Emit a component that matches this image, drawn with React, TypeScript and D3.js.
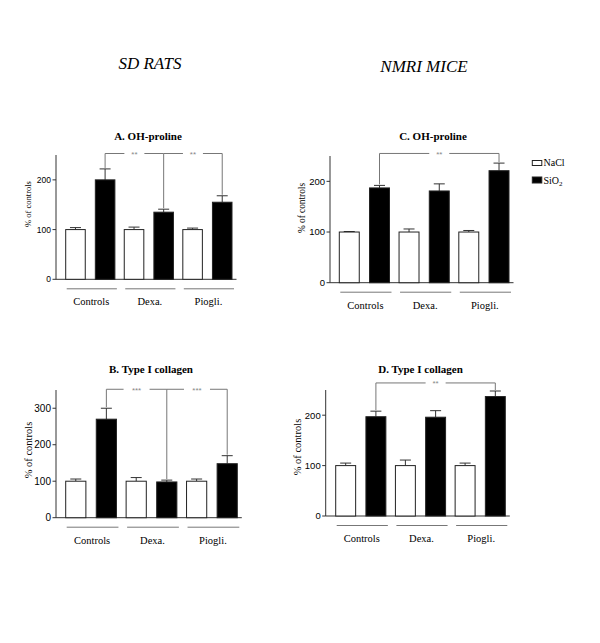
import React from 'react';
import * as d3 from 'd3';

// treatment groups and series
const groups = ['Controls', 'Dexa.', 'Piogli.'];
const series = ['NaCl', 'SiO2'];

// A. OH-proline, SD rats (% of controls, mean + SEM)
const ratOhNaCl = [100, 100, 100];
const ratOhNaClErr = [4, 5, 3];
const ratOhSiO2 = [200, 135, 155];
const ratOhSiO2Err = [22, 6, 13];

// B. Type I collagen, SD rats
const ratColNaCl = [100, 100, 100];
const ratColNaClErr = [6, 10, 6];
const ratColSiO2 = [270, 98, 148];
const ratColSiO2Err = [30, 5, 22];

// C. OH-proline, NMRI mice
const mouseOhNaCl = [100, 100, 100];
const mouseOhNaClErr = [1, 6, 3];
const mouseOhSiO2 = [187, 181, 221];
const mouseOhSiO2Err = [5, 14, 15];

// D. Type I collagen, NMRI mice
const mouseColNaCl = [100, 100, 100];
const mouseColNaClErr = [5, 11, 5];
const mouseColSiO2 = [197, 196, 237];
const mouseColSiO2Err = [11, 13, 11];

const ticks250 = [0, 100, 200];
const ticks350 = [0, 100, 200, 300];

const SERIF = '"Liberation Serif", "Times New Roman", serif';
const SANS = '"Liberation Sans", Arial, sans-serif';

const panels = [
  {
    title: 'A. OH-proline', naCl: ratOhNaCl, naClErr: ratOhNaClErr, siO2: ratOhSiO2, siO2Err: ratOhSiO2Err,
    max: 250, ticks: ticks250, axisX: 56, yTop: 155, yZero: 279.3, barX0: 65.7, barX1: 232,
    titleX: 148, titleY: 140, bracketValue: 253, bracketGroups: [0, 1, 2], stars: '**',
    labelY: 204, labelSize: 8.5, tickSize: 8.5,
  },
  {
    title: 'B. Type I collagen', naCl: ratColNaCl, naClErr: ratColNaClErr, siO2: ratColSiO2, siO2Err: ratColSiO2Err,
    max: 350, ticks: ticks350, axisX: 56, yTop: 390, yZero: 517.7, barX0: 65.7, barX1: 237.3,
    titleX: 151, titleY: 372.5, bracketValue: 352, bracketGroups: [0, 1, 2], stars: '***',
    labelY: 450, labelSize: 10.5, tickSize: 10,
  },
  {
    title: 'C. OH-proline', naCl: mouseOhNaCl, naClErr: mouseOhNaClErr, siO2: mouseOhSiO2, siO2Err: mouseOhSiO2Err,
    max: 250, ticks: ticks250, axisX: 330, yTop: 156, yZero: 282.7, barX0: 339.3, barX1: 509,
    titleX: 433, titleY: 140, bracketValue: 255, bracketGroups: [0, 2], stars: '**',
    labelY: 208, labelSize: 9.3, tickSize: 9.5,
  },
  {
    title: 'D. Type I collagen', naCl: mouseColNaCl, naClErr: mouseColNaClErr, siO2: mouseColSiO2, siO2Err: mouseColSiO2Err,
    max: 250, ticks: ticks250, axisX: 325.7, yTop: 390, yZero: 516, barX0: 335.7, barX1: 505.3,
    titleX: 420.5, titleY: 372.7, bracketValue: 264, bracketGroups: [0, 2], stars: '**',
    labelY: 447, labelSize: 10.5, tickSize: 9.5,
  },
];

type PanelCfg = (typeof panels)[number];

const Panel = ({ p }: { p: PanelCfg }) => {
  const x = d3.scaleBand().domain(groups).range([p.barX0, p.barX1]).paddingInner(0.16).paddingOuter(0);
  const xs = d3.scaleBand().domain(series).range([0, x.bandwidth()]).paddingInner(0.34).paddingOuter(0);
  const y = d3.scaleLinear().domain([0, p.max]).range([p.yZero, p.yTop]);

  const bars = groups.flatMap((g, i) => [
    { g, s: 'NaCl', v: p.naCl[i], e: p.naClErr[i] },
    { g, s: 'SiO2', v: p.siO2[i], e: p.siO2Err[i] },
  ]);

  const cx = (g: string, s: string) => (x(g) ?? 0) + (xs(s) ?? 0) + xs.bandwidth() / 2;
  const by = y(p.bracketValue);
  const xEnd = p.barX1 + 4.5;

  // bracket verticals at SiO2 bars
  const verts = p.bracketGroups.map((gi) => ({
    x: cx(groups[gi], 'SiO2'),
    bottom: y(p.siO2[gi] + p.siO2Err[gi]) - 1,
  }));
  const gap = p.stars.length * 3 + 4;
  const segs: [number, number][] = [];
  const mids: number[] = [];
  for (let i = 0; i < verts.length - 1; i++) {
    const m = (verts[i].x + verts[i + 1].x) / 2;
    mids.push(m);
    segs.push([verts[i].x, m - gap]);
    segs.push([m + gap, verts[i + 1].x]);
  }

  return (
    <g>
      <text x={p.titleX} y={p.titleY} textAnchor="middle" fontFamily={SERIF} fontWeight="bold" fontSize={11}>
        {p.title}
      </text>

      {/* y axis */}
      <line x1={p.axisX} x2={p.axisX} y1={p.yZero} y2={p.yTop} stroke="#333" />
      {p.ticks.map((t) => (
        <g key={t}>
          <line x1={p.axisX - 3.5} x2={p.axisX} y1={y(t)} y2={y(t)} stroke="#333" />
          <text x={p.axisX - 5} y={y(t)} dy="0.35em" textAnchor="end" fontFamily={SANS} fontSize={p.tickSize}>
            {t}
          </text>
        </g>
      ))}
      <text
        transform={`translate(${p.axisX - 28},${p.labelY}) rotate(-90)`}
        textAnchor="middle"
        dominantBaseline="central"
        fontFamily={SERIF}
        fontSize={p.labelSize}
      >
        % of controls
      </text>

      {/* x axis */}
      <line x1={p.axisX} x2={xEnd} y1={p.yZero} y2={p.yZero} stroke="#333" />

      {/* bars with one-sided error bars */}
      {bars.map((b) => {
        const bx = (x(b.g) ?? 0) + (xs(b.s) ?? 0);
        const mx = bx + xs.bandwidth() / 2;
        return (
          <g key={b.g + b.s}>
            <line x1={mx} x2={mx} y1={y(b.v)} y2={y(b.v + b.e)} stroke="#333" />
            <line x1={mx - 5.5} x2={mx + 5.5} y1={y(b.v + b.e)} y2={y(b.v + b.e)} stroke="#333" />
            <rect
              x={bx}
              y={y(b.v)}
              width={xs.bandwidth()}
              height={y(0) - y(b.v)}
              fill={b.s === 'NaCl' ? '#fff' : '#000'}
              stroke="#222"
            />
          </g>
        );
      })}

      {/* group underlines and labels */}
      {groups.map((g) => (
        <g key={g}>
          <line
            x1={(x(g) ?? 0) + 1}
            x2={(x(g) ?? 0) + x.bandwidth() + 2}
            y1={p.yZero + 9.5}
            y2={p.yZero + 9.5}
            stroke="#777"
          />
          <text
            x={(x(g) ?? 0) + x.bandwidth() / 2 + 1}
            y={p.yZero + 26}
            textAnchor="middle"
            fontFamily={SERIF}
            fontSize={10.5}
          >
            {g}
          </text>
        </g>
      ))}

      {/* significance bracket */}
      {segs.map(([a, b], i) => (
        <line key={i} x1={a} x2={b} y1={by} y2={by} stroke="#777" />
      ))}
      {verts.map((v, i) => (
        <line key={i} x1={v.x} x2={v.x} y1={by} y2={v.bottom} stroke="#777" />
      ))}
      {mids.map((m, i) => (
        <text key={i} x={m} y={by + 3.5} textAnchor="middle" fontFamily={SANS} fontSize={8} fill="#888">
          {p.stars}
        </text>
      ))}
    </g>
  );
};

export default function App() {
  return (
    <svg width={600} height={643} style={{ position: 'absolute', left: 0, top: 0, background: '#fff' }}>
      <text x={150} y={68.5} textAnchor="middle" fontFamily={SERIF} fontStyle="italic" fontSize={17}>
        SD RATS
      </text>
      <text x={424} y={71.5} textAnchor="middle" fontFamily={SERIF} fontStyle="italic" fontSize={17}>
        NMRI MICE
      </text>

      {panels.map((p) => (
        <Panel key={p.title} p={p} />
      ))}

      {/* legend */}
      <rect x={532.3} y={160.5} width={9.5} height={5} fill="#fff" stroke="#222" />
      <text x={543.5} y={165.8} fontFamily={SERIF} fontSize={10}>
        NaCl
      </text>
      <rect x={532.3} y={177} width={9.5} height={6} fill="#000" stroke="#222" />
      <text x={543.5} y={183.5} fontFamily={SERIF} fontSize={10}>
        SiO<tspan dy={2.5} fontSize={7}>2</tspan>
      </text>
    </svg>
  );
}
